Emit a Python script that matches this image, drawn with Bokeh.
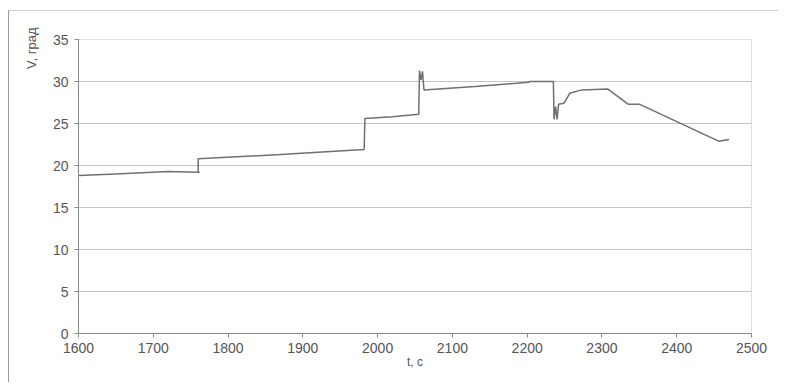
import numpy as np
from bokeh.plotting import figure
from bokeh.models import Range1d, FixedTicker, Title
from bokeh.embed import file_html
from bokeh.resources import INLINE

# time, s
t = [1600, 1650, 1720, 1762, 1760, 1760, 1870, 1982, 1983, 2020, 2055, 2056, 2058, 2060, 2062,
     2130, 2202, 2204, 2235, 2236, 2238, 2240, 2242, 2249, 2257, 2273, 2308, 2335, 2350, 2456, 2470]
# V, degrees
v = [18.8, 19.0, 19.3, 19.2, 19.2, 20.8, 21.3, 21.9, 25.6, 25.8, 26.1, 31.3, 30.2, 31.2, 29.0,
     29.4, 29.9, 30.0, 30.0, 25.5, 27.0, 25.5, 27.3, 27.4, 28.6, 29.0, 29.1, 27.3, 27.3, 22.9, 23.1]

x_ticks = [1600, 1700, 1800, 1900, 2000, 2100, 2200, 2300, 2400, 2500]
y_ticks = [0, 5, 10, 15, 20, 25, 30, 35]

FONT = "Liberation Sans"
TXT = "#555555"

p = figure(width=770, height=372, output_backend="svg", toolbar_location=None,
           x_range=Range1d(1600, 2500), y_range=Range1d(0, 35),
           min_border_left=69, min_border_right=28, min_border_top=28, min_border_bottom=50)
p.styles = {"margin-left": "8px", "margin-top": "10px",
            "border-left": "1px solid #9a9a9a", "border-top": "1px solid #d0d0d0"}

p.line(t, v, line_color="#707070", line_width=1.5)

p.outline_line_color = "#e0e0e0"
p.xgrid.grid_line_color = None
p.ygrid.grid_line_color = "#c4c4c4"
p.ygrid.grid_line_width = 1
p.yaxis.ticker = FixedTicker(ticks=y_ticks)
p.xaxis.ticker = FixedTicker(ticks=x_ticks)

for ax in (p.xaxis[0], p.yaxis[0]):
    ax.axis_line_color = "#8a8a8a"
    ax.major_tick_line_color = "#8a8a8a"
    ax.major_tick_out = 4
    ax.major_tick_in = 0
    ax.minor_tick_line_color = None
    ax.major_label_text_font = FONT
    ax.major_label_text_font_size = "14px"
    ax.major_label_text_color = TXT

p.xaxis.major_label_standoff = 5
p.yaxis.major_label_standoff = 6
p.xaxis.axis_label = "t, c"
p.xaxis.axis_label_text_font = FONT
p.xaxis.axis_label_text_font_size = "12px"
p.xaxis.axis_label_text_font_style = "normal"
p.xaxis.axis_label_text_color = TXT
p.xaxis.axis_label_standoff = -1

ytitle = Title(text="V, град", align="right", text_font=FONT, text_font_size="13px",
               text_font_style="normal", text_color=TXT, standoff=22, offset=-12)
p.add_layout(ytitle, "left")

open("out.html", "w").write(file_html(p, INLINE))
